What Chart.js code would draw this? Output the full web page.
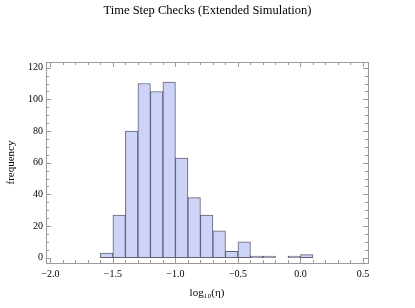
<!DOCTYPE html>
<html>
<head>
<meta charset="utf-8">
<script src="https://cdn.jsdelivr.net/npm/chart.js@4/dist/chart.umd.min.js"></script>
<style>
  body { margin: 0; background: #fff; }
</style>
</head>
<body>
<canvas id="histo" width="415" height="308"></canvas>
<script>
// histogram bins (left edge of each 0.1 wide bin) and counts
const binLeft = [-1.6, -1.5, -1.4, -1.3, -1.2, -1.1, -1.0, -0.9, -0.8, -0.7, -0.6, -0.5, -0.4, -0.3, -0.2, -0.1, 0.0];
const counts  = [3, 27, 80, 110, 105, 111, 63, 38, 27, 17, 4, 10, 1, 1, 0, 1, 2];
const binWidth = 0.1;

const xTicks = [-2.0, -1.5, -1.0, -0.5, 0.0, 0.5];
const yTicks = [0, 20, 40, 60, 80, 100, 120];

const serif = "'Liberation Serif', 'DejaVu Serif', serif";
const frameColor = "#9a9a9a";

// frame with inward ticks on all four sides, like mathematica's Frame -> True
const framePlugin = {
    id: "frame",
    afterDraw(chart) {
        const ctx = chart.ctx;
        const a = chart.chartArea;
        const xs = chart.scales.x;
        const ys = chart.scales.y;
        ctx.save();
        ctx.strokeStyle = frameColor;
        ctx.lineWidth = 1;
        ctx.strokeRect(Math.round(a.left) + 0.5, Math.round(a.top) + 0.5,
            Math.round(a.right - a.left), Math.round(a.bottom - a.top));
        ctx.beginPath();
        // x ticks, major every 0.5, minor every 0.1
        for (let i = -21; i <= 5; i++) {
            const v = i / 10;
            const px = Math.round(xs.getPixelForValue(v)) + 0.5;
            if (px < a.left || px > a.right) continue;
            const len = (i % 5 == 0) ? 5 : 3;
            ctx.moveTo(px, a.bottom); ctx.lineTo(px, a.bottom - len);
            ctx.moveTo(px, a.top); ctx.lineTo(px, a.top + len);
        }
        // y ticks, major every 20, minor every 5
        for (let v = 0; v <= 120; v += 5) {
            const py = Math.round(ys.getPixelForValue(v)) + 0.5;
            const len = (v % 20 == 0) ? 5 : 3;
            ctx.moveTo(a.left, py); ctx.lineTo(a.left + len, py);
            ctx.moveTo(a.right, py); ctx.lineTo(a.right - len, py);
        }
        ctx.stroke();
        ctx.restore();
    }
};

new Chart("histo", {
    type: "bar",
    data: {
        datasets: [{
            data: binLeft.map((b, i) => ({ x: b + binWidth / 2, y: counts[i] })),
            backgroundColor: "rgb(204,211,246)",
            borderColor: "rgba(70,70,95,0.85)",
            borderWidth: 1,
            borderSkipped: false,
            barPercentage: 1,
            categoryPercentage: 1
        }]
    },
    options: {
        responsive: false,
        animation: false,
        events: [],
        layout: { padding: 0 },
        plugins: {
            legend: { display: false },
            tooltip: { enabled: false },
            title: {
                display: true,
                text: "Time Step Checks (Extended Simulation)",
                color: "#000",
                font: { family: serif, size: 12.5, weight: "normal" },
                padding: { top: 3, bottom: 44 }
            }
        },
        scales: {
            x: {
                type: "linear",
                offset: false,
                min: -2.035,
                max: 0.54,
                grid: { display: false, drawTicks: false },
                border: { display: false },
                afterBuildTicks: s => { s.ticks = xTicks.map(v => ({ value: v })); },
                afterFit: s => { s.height = 45; },
                ticks: {
                    color: "#000",
                    padding: 5,
                    maxRotation: 0,
                    font: { family: serif, size: 10 },
                    callback: v => v.toFixed(1).replace("-", "\u2212")
                },
                title: {
                    display: true,
                    text: "log\u2081\u2080(\u03b7)",
                    color: "#000",
                    font: { family: serif, size: 11 },
                    padding: { top: 0, bottom: 8.4 }
                }
            },
            y: {
                min: -3.3,
                max: 123.6,
                grid: { display: false, drawTicks: false },
                border: { display: false },
                afterBuildTicks: s => { s.ticks = yTicks.map(v => ({ value: v })); },
                afterFit: s => { s.width = 46; },
                ticks: {
                    color: "#000",
                    padding: 3,
                    font: { family: serif, size: 10 }
                },
                title: {
                    display: true,
                    text: "frequency",
                    color: "#000",
                    font: { family: serif, size: 11 },
                    padding: { top: 5, bottom: 0 }
                }
            },
            // empty right axis, only reserves the margin right of the frame
            yRight: {
                type: "linear",
                position: "right",
                grid: { display: false, drawTicks: false },
                border: { display: false },
                ticks: { display: false },
                afterFit: s => { s.width = 47; }
            }
        }
    },
    plugins: [framePlugin]
});
</script>
</body>
</html>
